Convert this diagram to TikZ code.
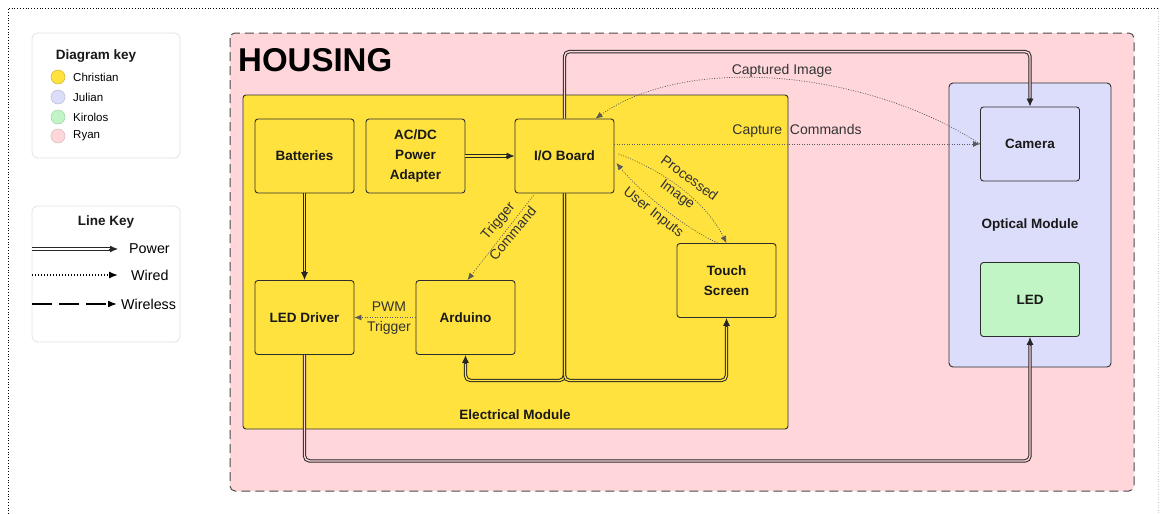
\documentclass[tikz,border=0pt]{standalone}
\usepackage{fontspec}
\setmainfont{Liberation Sans}
\usetikzlibrary{arrows.meta,calc}

\definecolor{housingpink}{HTML}{FFD7DB}
\definecolor{elecyellow}{HTML}{FFE23E}
\definecolor{optlav}{HTML}{DCDCFB}
\definecolor{ledgreen}{HTML}{C2F5C6}
\definecolor{edgeline}{HTML}{2E2E2E}
\definecolor{keyborder}{HTML}{E2E2E2}
\definecolor{housingline}{HTML}{4A4A4A}

\newcommand{\boxtxt}{\fontsize{13.5}{20}\selectfont\bfseries}
\newcommand{\edgetxt}{\fontsize{14}{20}\selectfont}
\newcommand{\keyitemtxt}{\fontsize{11.5}{13}\selectfont}
\newcommand{\keylinetxt}{\fontsize{14.3}{16}\selectfont}
\newcommand{\housetxt}{\fontsize{33}{36}\selectfont\bfseries}

\tikzset{
  box/.style={draw=edgeline, line width=0.9pt, rounded corners=3pt,
    minimum width=99pt, minimum height=74pt, align=center,
    font=\boxtxt, text=black!90, inner sep=1pt},
  modlabel/.style={font=\boxtxt, text=black!90, inner sep=0pt},
  elabel/.style={font=\edgetxt, text=black!80, align=center, inner sep=1pt},
  keybox/.style={draw=keyborder, line width=0.8pt, fill=white, rounded corners=6pt},
  keydot/.style={line width=0.5pt},
  powerline/.style={draw=black!85, line width=1pt, double distance=1.4pt,
    rounded corners=5pt, shorten >=6pt},
  powertip/.style={draw=black!85, line width=1pt, -{Latex[length=8pt,width=7pt]}},
  wired/.style={draw=black!65, line width=0.7pt, dash pattern=on 1pt off 1.5pt,
    -{Latex[length=7pt,width=6pt]}},
  wireless/.style={draw=black, line width=1.6pt, dash pattern=on 20pt off 7pt,
    -{Latex[length=9pt,width=7pt]}},
}

\begin{document}
\begin{tikzpicture}[x=1pt,y=-1pt]
\useasboundingbox (0,0) rectangle (1160,514);

% outer frame
\draw[line width=0.8pt, dotted] (8,514) -- (8,8) -- (1158,8);
\draw[line width=0.6pt, dotted, black!20] (1158,8) -- (1158,514);

% ---- diagram key ----
\draw[keybox] (32,33) rectangle (180,158);
\node[modlabel] (keytitle) at (96,56) {Diagram key};
\draw[keydot, fill=elecyellow, draw=elecyellow!80!black] (58,77) circle[radius=7pt];
\draw[keydot, fill=optlav, draw=optlav!85!black] (58,97) circle[radius=7pt];
\draw[keydot, fill=ledgreen, draw=ledgreen!85!black] (58,117) circle[radius=7pt];
\draw[keydot, fill=housingpink, draw=housingpink!85!black] (58,136) circle[radius=7pt];
\node[font=\keyitemtxt, anchor=west, inner sep=0pt] (kchris) at (73,77) {Christian};
\node[font=\keyitemtxt, anchor=west, inner sep=0pt] (kjul) at (73,97) {Julian};
\node[font=\keyitemtxt, anchor=west, inner sep=0pt] (kkir) at (73,117) {Kirolos};
\node[font=\keyitemtxt, anchor=west, inner sep=0pt] (kryan) at (73,136) {Ryan};

% ---- line key ----
\draw[keybox] (32,206) rectangle (180,342);
\node[modlabel] (linetitle) at (106,222) {Line Key};
\coordinate (kp0) at (32,249);  \coordinate (kp1) at (118,249);
\coordinate (kw0) at (32,275);  \coordinate (kw1) at (118,275);
\coordinate (kl0) at (32,304);  \coordinate (kl1) at (117,304);
\draw[powerline, double=white] (kp0) -- (kp1);
\draw[powertip] ($(kp1)+(-9,0)$) -- (kp1);
\draw[wired, draw=black, line width=1.4pt, dash pattern=on 1.4pt off 1.6pt,
  -{Latex[length=9pt,width=7pt]}] (kw0) -- (kw1);
\draw[wireless] (kl0) -- (kl1);
\node[font=\keylinetxt, anchor=west, inner sep=0pt] (kpower) at (129,249) {Power};
\node[font=\keylinetxt, anchor=west, inner sep=0pt] (kwired) at (131,275) {Wired};
\node[font=\keylinetxt, anchor=west, inner sep=0pt] (kwless) at (121,304) {Wireless};

% ---- housing and modules ----
\draw[fill=housingpink, draw=housingline, line width=1pt, dash pattern=on 9pt off 5pt,
  rounded corners=5pt] (230,33) rectangle (1134,491);
\node[font=\housetxt, anchor=west, inner sep=0pt] (housing) at (238,60) {HOUSING};

\draw[fill=elecyellow, draw=edgeline, line width=0.9pt, rounded corners=3pt]
  (243,95) rectangle (788,429);
\node[modlabel] (elecmod) at (515,415) {Electrical Module};

\draw[fill=optlav, draw=edgeline, line width=0.9pt, rounded corners=4pt]
  (949,83) rectangle (1111,367);
\node[modlabel] (optmod) at (1030,225) {Optical Module};

% ---- component boxes ----
\node[box, fill=elecyellow] (bat)   at (304.5,156)   {Batteries};
\node[box, fill=elecyellow] (acdc)  at (415.5,156)   {AC/DC\\Power\\Adapter};
\node[box, fill=elecyellow] (io)    at (564.5,156)   {I/O Board};
\node[box, fill=elecyellow] (drv)   at (304.5,317.5) {LED Driver};
\node[box, fill=elecyellow] (ard)   at (465.5,317.5) {Arduino};
\node[box, fill=elecyellow] (touch) at (726.5,280.5) {Touch\\Screen};
\node[box, fill=optlav]     (cam)   at (1030,144)    {Camera};
\node[box, fill=ledgreen]   (led)   at (1030,299.5)  {LED};

% ---- power connections ----
\draw[powerline, double=elecyellow] (bat.south) -- (drv.north);
\draw[powertip] ($(drv.north)+(0,-9)$) -- (drv.north);

\draw[powerline, double=elecyellow] (acdc.east) -- (io.west);
\draw[powertip] ($(io.west)+(-9,0)$) -- (io.west);

\draw[powerline, double=housingpink] (io.north) -- ++(0,-67) -| (cam.north);
\draw[powertip] ($(cam.north)+(0,-9)$) -- (cam.north);

\draw[powerline, double=elecyellow] (io.south) -- ++(0,187) -| (ard.south);
\draw[powertip] ($(ard.south)+(0,9)$) -- (ard.south);

\draw[powerline, double=elecyellow] (io.south) -- ++(0,187) -| (touch.south);
\draw[powertip] ($(touch.south)+(0,9)$) -- (touch.south);

\draw[powerline, double=housingpink] (drv.south) -- ++(0,106) -| (led.south);
\draw[powertip] ($(led.south)+(0,9)$) -- (led.south);

% ---- wired connections ----
\draw[wired] (cam.west) .. controls (870,72) and (690,52) .. ($(io.north)+(31,0)$);
\draw[wired] (io.east |- cam.west) -- (cam.west);
\draw[wired] ($(io.east)+(4,-2)$) .. controls (662,170) and (705,200) .. (touch.north);
\draw[wired] ($(touch.north)+(-9,0)$) .. controls (685,228) and (640,192) .. ($(io.east)+(2,7)$);
\draw[wired] ($(io.south)+(-31,2)$) -- ($(ard.north)+(2,0)$);
\draw[wired] (ard.west) -- (drv.east);

% ---- connector labels ----
\node[elabel] (lcapimg) at (782,71) {Captured Image};
\node[elabel] (lcapcmd) at (797,131) {Capture\ \ Commands};
\node[elabel, rotate=-36] (lproc) at (683,187) {Processed\\Image};
\node[elabel, rotate=-38] (luser) at (653,213) {User Inputs};
\node[elabel, rotate=50] (ltrig) at (505,227) {Trigger\\Command};
\node[elabel] (lpwm) at (389,318) {PWM\\Trigger};

\end{tikzpicture}
\end{document}
